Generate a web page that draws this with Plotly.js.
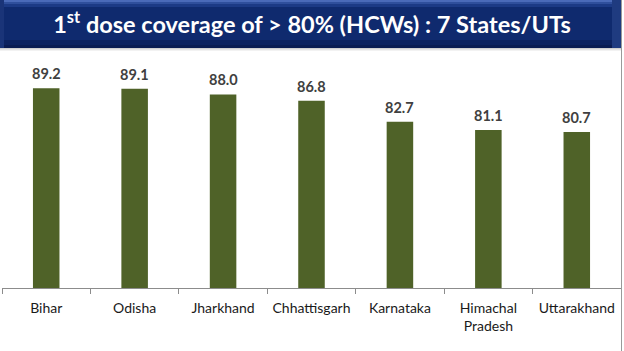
<!DOCTYPE html>
<html><head><meta charset="utf-8">
<script src="https://cdn.plot.ly/plotly-3.0.1.min.js"></script>
<style>html,body{margin:0;padding:0;background:#fff;}#chart{width:624px;height:351px;}</style>
</head><body><div id="chart"></div>
<script>
const states = ['Bihar', 'Odisha', 'Jharkhand', 'Chhattisgarh', 'Karnataka', 'Himachal<br>Pradesh', 'Uttarakhand'];
const coverage = [89.2, 89.1, 88.0, 86.8, 82.7, 81.1, 80.7];
const valueLabels = ['89.2', '89.1', '88.0', '86.8', '82.7', '81.1', '80.7'];
const titleText = '1<sup>st</sup> dose coverage of &gt; 80% (HCWs) : 7 States/UTs';

const W = 624, H = 351, ML = 2, MR = 3, MT = 60, MB = 63;
const PW = W - ML - MR, PH = H - MT - MB;
const px = x => (x - ML) / PW;
const py = y => 1 - (y - MT) / PH;

const shapes = [];
function rect(x0, y0, x1, y1, color) {
  shapes.push({type: 'rect', xref: 'paper', yref: 'paper', x0: px(x0), x1: px(x1), y0: py(y1), y1: py(y0),
    fillcolor: color, line: {width: 0}, layer: 'below'});
}
// shadow under banner
rect(0, 48, 621, 49, '#d0d0d0');
rect(0, 49, 621, 50, '#e4e4e4');
rect(0, 50, 621, 51, '#f2f2f2');
// banner
rect(0, 0, 621, 48, '#0f2a6e');
rect(0, 0, 621, 2, '#4a6ab8');
rect(0, 2, 621, 4, '#2f4f9c');
rect(0, 4, 621, 7, '#1c3a85');
rect(0, 40, 621, 45, '#0c2260');
rect(0, 45, 621, 48, '#0a1c52');
rect(0, 0, 4, 48, '#1a3478');
rect(612, 0, 621, 48, '#1f3b80');
// right frame line
shapes.push({type: 'line', xref: 'paper', yref: 'paper', x0: px(621.5), x1: px(621.5), y0: py(351), y1: py(0),
  line: {color: '#9a9a9a', width: 1}});

const annotations = states.map((s, i) => ({
  x: s, y: coverage[i], xref: 'x', yref: 'y', text: valueLabels[i], showarrow: false,
  yanchor: 'bottom', yshift: 4, font: {family: 'Lato, sans-serif', size: 14.5, color: '#404040', weight: 'bold'}
}));

const trace = {
  type: 'bar', x: states, y: coverage, width: 0.3,
  marker: {color: '#4f6228', line: {width: 0}},
  hoverinfo: 'none'
};

const layout = {
  width: W, height: H,
  margin: {l: ML, r: MR, t: MT, b: MB, pad: 0},
  paper_bgcolor: '#ffffff', plot_bgcolor: 'rgba(0,0,0,0)',
  showlegend: false,
  title: {text: titleText, x: 312 / W, xref: 'container', xanchor: 'center',
    y: 1 - 25 / H, yref: 'container', yanchor: 'middle',
    font: {family: 'Lato, sans-serif', size: 23.5, color: '#ffffff', weight: 'bold'}},
  xaxis: {type: 'category', showline: true, linecolor: '#8c8c8c', linewidth: 1,
    ticks: 'outside', tickson: 'boundaries', ticklen: 5, tickcolor: '#8c8c8c',
    ticklabelstandoff: 7, tickangle: 0,
    showgrid: false, zeroline: false, fixedrange: true,
    tickfont: {family: 'Lato, sans-serif', size: 14, color: '#1a1a1a'}},
  yaxis: {range: [50.35, 50.35 + PH / 5.14], visible: false, showgrid: false, zeroline: false, fixedrange: true},
  shapes: shapes,
  annotations: annotations
};

Plotly.newPlot('chart', [trace], layout, {displayModeBar: false, staticPlot: true});
</script>
</body></html>
